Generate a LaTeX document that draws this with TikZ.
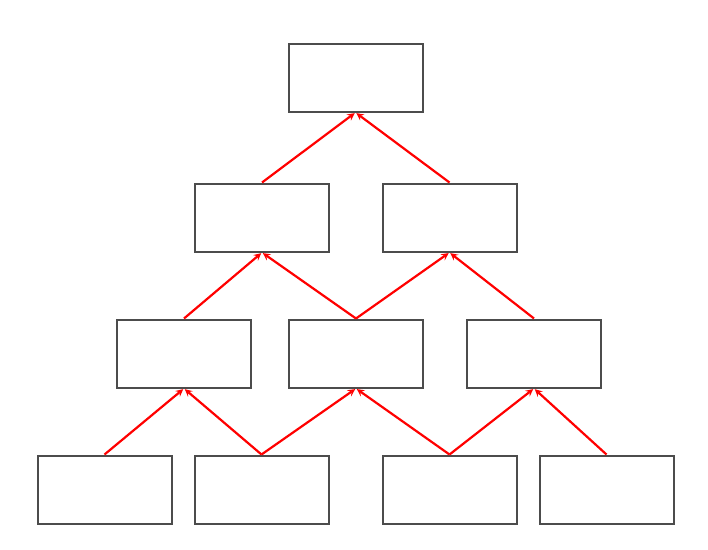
\documentclass[tikz,border=0pt]{standalone}
\begin{document}
\begin{tikzpicture}[x=1pt, y=-1pt, >=stealth,
    box/.style={draw=black!70, line width=2pt, minimum width=134pt, minimum height=68pt, inner sep=0pt},
    link/.style={->, red, line width=2.2pt, shorten >=1pt}]
    \useasboundingbox (0,0) rectangle (708,549);
    \node[box] (t) at (355.5,77.5) {};
    \node[box] (ma) at (262,217.5) {};
    \node[box] (mb) at (449.5,217.5) {};
    \node[box] (la) at (184,353.5) {};
    \node[box] (lb) at (356,353.5) {};
    \node[box] (lc) at (534,353.5) {};
    \node[box] (ba) at (104.5,489.5) {};
    \node[box] (bb) at (261.5,489.5) {};
    \node[box] (bc) at (449.5,489.5) {};
    \node[box] (bd) at (606.5,489.5) {};
    \draw[link] (ma.north) -- (t.south);
    \draw[link] (mb.north) -- (t.south);
    \draw[link] (la.north) -- (ma.south);
    \draw[link] (lb.north) -- (ma.south);
    \draw[link] (lb.north) -- (mb.south);
    \draw[link] (lc.north) -- (mb.south);
    \draw[link] (ba.north) -- (la.south);
    \draw[link] (bb.north) -- (la.south);
    \draw[link] (bb.north) -- (lb.south);
    \draw[link] (bc.north) -- (lb.south);
    \draw[link] (bc.north) -- (lc.south);
    \draw[link] (bd.north) -- (lc.south);
\end{tikzpicture}
\end{document}
